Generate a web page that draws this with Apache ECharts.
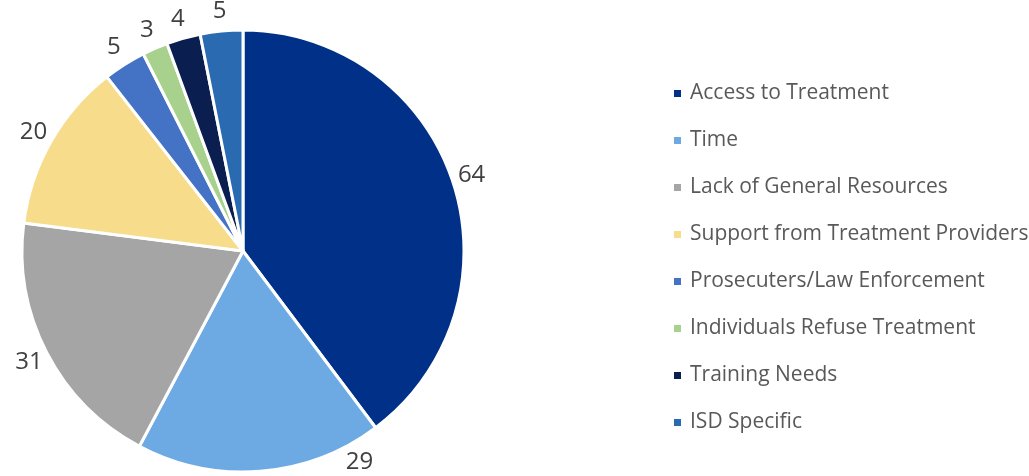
<!DOCTYPE html>
<html>
<head>
<meta charset="utf-8">
<script src="https://cdn.jsdelivr.net/npm/echarts@6/dist/echarts.min.js"></script>
<style>
  html, body { margin: 0; padding: 0; background: #fff; }
  #chart { width: 1029px; height: 476px; }
</style>
</head>
<body>
<div id="chart"></div>
<script>
// Barrier categories and response counts
const categories = [
  'Access to Treatment',
  'Time',
  'Lack of General Resources',
  'Support from Treatment Providers',
  'Prosecuters/Law Enforcement',
  'Individuals Refuse Treatment',
  'Training Needs',
  'ISD Specific'
];
const counts = [64, 29, 31, 20, 5, 3, 4, 5];
const colors = ['#003087', '#6DAAE3', '#A5A5A5', '#F7DC8C', '#4472C4', '#A9D18E', '#0A1F4F', '#2A6AB0'];

const W = 1029, H = 476;
const CX = 243, CY = 251, R = 221;
const LABEL_R = 241;     // radius at which value labels are centred
const LABEL_PAD = 14;    // keep labels this far inside the canvas

// Place each value label at its slice's mid-angle; if that falls off the
// bottom of the canvas, slide it back along the circle until it fits.
const total = counts.reduce((a, b) => a + b, 0);
const labelPos = [];
let acc = 0;
counts.forEach(v => {
  const start = acc / total * 2 * Math.PI;
  acc += v;
  let a = (start + acc / total * 2 * Math.PI) / 2;   // clockwise from 12 o'clock
  let x = CX + LABEL_R * Math.sin(a);
  let y = CY - LABEL_R * Math.cos(a);
  const yMax = H - LABEL_PAD;
  if (y > yMax) {
    const from = Math.acos((CY - yMax) / LABEL_R);   // angle where y == yMax
    a = a < Math.PI ? Math.min(a, from) : Math.max(a, 2 * Math.PI - from);
    x = CX + LABEL_R * Math.sin(a);
    y = CY - LABEL_R * Math.cos(a);
  }
  labelPos.push([x, y]);
});

const chart = echarts.init(document.getElementById('chart'));
chart.setOption({
  animation: false,
  color: colors,
  legend: {
    orient: 'vertical',
    left: 667,
    top: 78,
    icon: 'rect',
    itemWidth: 9,
    itemHeight: 9,
    itemGap: 26,
    textStyle: {
      fontFamily: 'Open Sans',
      fontSize: 21,
      lineHeight: 21,
      color: '#595959',
      padding: [0, 0, 0, 3]
    },
    data: categories
  },
  series: [{
    type: 'pie',
    center: [CX, CY],
    radius: R,
    startAngle: 90,
    clockwise: true,
    avoidLabelOverlap: false,
    itemStyle: { borderColor: '#fff', borderWidth: 3 },
    label: {
      show: true,
      position: 'outside',
      formatter: '{c}',
      fontFamily: 'Open Sans',
      fontSize: 24,
      color: '#404040'
    },
    labelLine: { show: false },
    labelLayout: p => ({
      x: labelPos[p.dataIndex][0],
      y: labelPos[p.dataIndex][1],
      align: 'center',
      verticalAlign: 'middle'
    }),
    data: categories.map((name, i) => ({ name, value: counts[i] }))
  }]
});
</script>
</body>
</html>
